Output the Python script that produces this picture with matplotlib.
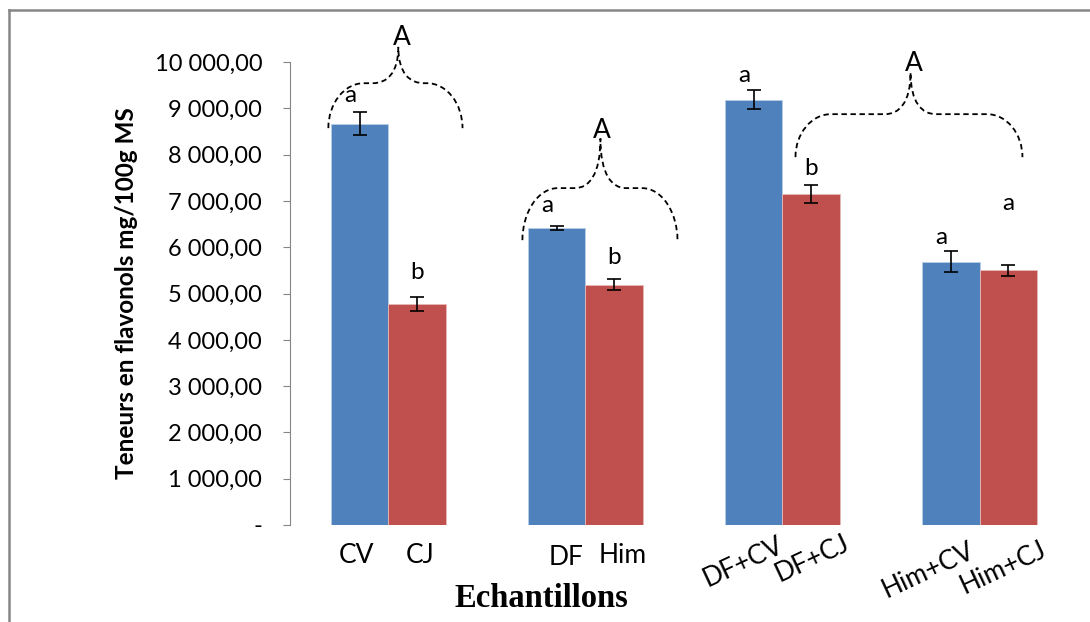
import matplotlib
matplotlib.use('Agg')
import matplotlib.pyplot as plt
import numpy as np
from matplotlib.path import Path
from matplotlib.patches import PathPatch
from matplotlib.lines import Line2D
from matplotlib.ticker import FuncFormatter

# Data
groups = ['CV/CJ', 'DF/Him', 'DF+CV/DF+CJ', 'Him+CV/Him+CJ']
blue_labels = ['CV', 'DF', 'DF+CV', 'Him+CV']
red_labels = ['CJ', 'Him', 'DF+CJ', 'Him+CJ']
blue_vals = [8670, 6420, 9190, 5690]
red_vals = [4780, 5190, 7150, 5500]
blue_err = [245, 40, 200, 220]
red_err = [150, 120, 200, 120]
blue_letters = ['a', 'a', 'a', 'a']
red_letters = ['b', 'b', 'b', 'a']

blue = '#4F81BD'
red = '#C0504D'
font = 'Lato'

fig = plt.figure(figsize=(10.9, 6.22), dpi=100)
ax = fig.add_axes([0.266, 0.156, 0.723, 0.744])

x = np.arange(len(groups))
w = 0.29
ax.bar(x - w / 2, blue_vals, w, color=blue, edgecolor='#B9CDE5', linewidth=0.6,
       yerr=blue_err, capsize=5, error_kw=dict(elinewidth=1.2, capthick=1.2, ecolor='black'))
ax.bar(x + w / 2, red_vals, w, color=red, edgecolor='#E6B9B8', linewidth=0.6,
       yerr=red_err, capsize=5, error_kw=dict(elinewidth=1.2, capthick=1.2, ecolor='black'))

ax.set_xlim(-0.5, 3.5)
ax.set_ylim(0, 10000)
ax.set_yticks(np.arange(0, 10001, 1000))
ax.yaxis.set_major_formatter(FuncFormatter(
    lambda v, p: '-' if v == 0 else '{:,.2f}'.format(v).replace(',', ' ').replace('.', ',')))
ax.set_xticks([])
for s in ['top', 'right', 'bottom']:
    ax.spines[s].set_visible(False)
ax.spines['left'].set_color('#868686')
ax.tick_params(axis='y', direction='out', length=5, color='#868686', labelsize=17, pad=15)
for lab in ax.get_yticklabels():
    lab.set_fontfamily(font)
ax.set_ylabel('Teneurs en flavonols mg/100g MS', fontsize=17.5, fontweight='bold',
              fontfamily=font, labelpad=12)

# letters above bars
letter_y_blue = [9290, 6910, 9720, 6220]
letter_y_red = [5450, 5770, 7710, 6950]
for i in range(len(groups)):
    ax.text(x[i] - w / 2 - 0.05, letter_y_blue[i], blue_letters[i], ha='center', va='center',
            fontsize=17.5, fontfamily=font)
    ax.text(x[i] + w / 2 + 0.0, letter_y_red[i], red_letters[i], ha='center', va='center',
            fontsize=17.5, fontfamily=font)

# sample labels under bars
ax.text(-0.16, -650, 'CV', ha='center', va='center', fontsize=19, fontfamily=font)
ax.text(0.16, -650, 'CJ', ha='center', va='center', fontsize=19, fontfamily=font)
ax.text(0.90, -700, 'DF', ha='center', va='center', fontsize=19, fontfamily=font)
ax.text(1.19, -650, 'Him', ha='center', va='center', fontsize=19, fontfamily=font)
ax.text(1.80, -800, 'DF+CV', ha='center', va='center', fontsize=19, fontfamily=font, rotation=25)
ax.text(2.15, -720, 'DF+CJ', ha='center', va='center', fontsize=19, fontfamily=font, rotation=25)
ax.text(2.74, -970, 'Him+CV', ha='center', va='center', fontsize=19, fontfamily=font, rotation=25)
ax.text(3.12, -930, 'Him+CJ', ha='center', va='center', fontsize=19, fontfamily=font, rotation=25)

fig.text(0.497, 0.038, 'Echantillons', ha='center', va='center', fontsize=23.5,
         fontweight='bold', fontfamily='Liberation Serif')


def brace(x0, x1, xm, yb, yf, yp, cs=0.18, cm=0.13):
    k = 0.55
    verts = [(x0, yb), (x0, yb + k * (yf - yb)), (x0 + cs * (1 - k), yf), (x0 + cs, yf),
             (xm - cm, yf),
             (xm - cm * (1 - k), yf), (xm, yf + (1 - k) * (yp - yf) * 0.6), (xm, yp),
             (xm, yf + (1 - k) * (yp - yf) * 0.6), (xm + cm * (1 - k), yf), (xm + cm, yf),
             (x1 - cs, yf),
             (x1 - cs * (1 - k), yf), (x1, yb + k * (yf - yb)), (x1, yb)]
    codes = [Path.MOVETO, Path.CURVE4, Path.CURVE4, Path.CURVE4,
             Path.LINETO,
             Path.CURVE4, Path.CURVE4, Path.CURVE4,
             Path.CURVE4, Path.CURVE4, Path.CURVE4,
             Path.LINETO,
             Path.CURVE4, Path.CURVE4, Path.CURVE4]
    p = PathPatch(Path(verts, codes), fill=False, edgecolor='black', lw=1.3,
                  linestyle=(0, (3, 2)), clip_on=False)
    ax.add_patch(p)


brace(-0.305, 0.376, 0.05, 8575, 9546, 10330)
ax.text(0.07, 10540, 'A', ha='center', va='center', fontsize=19, fontfamily=font, clip_on=False)
brace(0.680, 1.467, 1.076, 6155, 7279, 8350)
ax.text(1.085, 8520, 'A', ha='center', va='center', fontsize=19, fontfamily=font)
brace(2.066, 3.218, 2.650, 7948, 8877, 9780)
ax.text(2.665, 9970, 'A', ha='center', va='center', fontsize=19, fontfamily=font)

# figure frame (left and top)
fig.add_artist(Line2D([0.0085, 0.0085], [0, 0.984], transform=fig.transFigure,
                      color='#868686', lw=1.8))
fig.add_artist(Line2D([0.0085, 1.0], [0.984, 0.984], transform=fig.transFigure,
                      color='#868686', lw=1.8))

fig.savefig('out.png', dpi=100)
